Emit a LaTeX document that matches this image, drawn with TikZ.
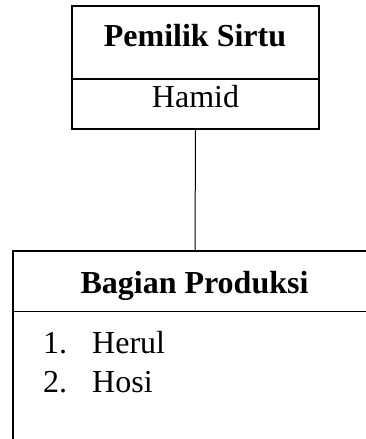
\documentclass[tikz,border=0pt]{standalone}
\usepackage{fontspec}
\setmainfont{Liberation Serif}
\tikzset{
  boxline/.style={draw=black, line width=2.2pt},
  thinline/.style={draw=black, line width=1pt},
  txt/.style={inner sep=0pt, anchor=base, font=\fontsize{32}{38}\selectfont},
  btxt/.style={txt, font=\fontsize{32}{38}\selectfont\bfseries},
}
\begin{document}
\begin{tikzpicture}[x=1pt,y=-1pt]
\useasboundingbox (0,0) rectangle (366,439);
\clip (0,0) rectangle (366,439);
% top box
\node[boxline, rectangle, minimum width=247pt, minimum height=123pt, inner sep=0pt] (top) at (195.5,67.5) {};
\draw[line width=2pt] (top.west |- 0,79) -- (top.east |- 0,79);
\node[btxt] (owner) at (195,46) {Pemilik Sirtu};
\node[txt] (hamid) at (195.5,107) {Hamid};
% bottom box
\node[boxline, rectangle, minimum width=364pt, minimum height=230pt, inner sep=0pt] (bottom) at (195,366) {};
\draw[thinline] (bottom.west |- 0,311) -- (bottom.east |- 0,311);
\node[btxt] (prod) at (194.5,293) {Bagian Produksi};
\node[txt, anchor=base west] (n1) at (43,353) {1.};
\node[txt, anchor=base west] (h1) at (92,353) {Herul};
\node[txt, anchor=base west] (n2) at (43,392) {2.};
\node[txt, anchor=base west] (h2) at (92,392) {Hosi};
% connector
\draw[thinline] (top.south) -- (bottom.north);
\end{tikzpicture}
\end{document}
